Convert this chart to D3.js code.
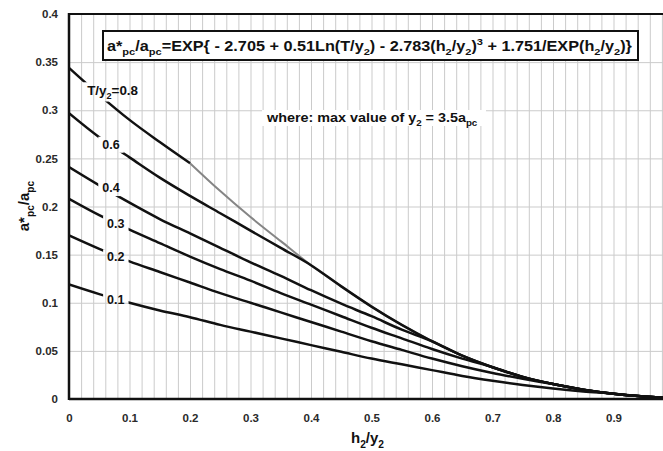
<!DOCTYPE html>
<html>
<head>
<meta charset="utf-8">
<script src="https://cdn.jsdelivr.net/npm/d3@7"></script>
<style>
  body { margin: 0; background: #fff; }
  text { font-family: "Liberation Sans", Arial, sans-serif; font-weight: bold; }
</style>
</head>
<body>
<svg id="chart" width="663" height="451"></svg>
<script>
// ---- data ----
const hSteps = [0, 0.05, 0.1, 0.15, 0.2, 0.25, 0.3, 0.35, 0.4, 0.45, 0.5, 0.55, 0.6, 0.65, 0.7, 0.75, 0.8, 0.85, 0.9];

// a*pc/apc for each T/y2 ratio, sampled on hSteps until the curve meets the limit line
const ratioLabels = ["0.8", "0.6", "0.4", "0.3", "0.2", "0.1"];
const seriesT08 = [0.344, 0.316, 0.290, 0.267, 0.245];
const seriesT06 = [0.297, 0.272, 0.251, 0.230, 0.211, 0.193, 0.175, 0.157, 0.139];
const seriesT04 = [0.241, 0.222, 0.204, 0.187, 0.172, 0.157, 0.142, 0.128, 0.113, 0.099, 0.086, 0.072, 0.060];
const seriesT03 = [0.208, 0.191, 0.176, 0.162, 0.148, 0.135, 0.123, 0.110, 0.098, 0.086, 0.074, 0.063, 0.052, 0.042, 0.033];
const seriesT02 = [0.170, 0.156, 0.143, 0.132, 0.121, 0.110, 0.100, 0.090, 0.080, 0.070, 0.060, 0.051, 0.042, 0.034, 0.027, 0.021, 0.0155];
const seriesT01 = [0.119, 0.109, 0.100, 0.092, 0.085, 0.077, 0.070, 0.063, 0.056, 0.049, 0.042, 0.036, 0.030, 0.024, 0.019, 0.0146, 0.0109, 0.0079, 0.0055];

// limit line (T/y2 = 1 - h2/y2)
const limitH = [0.2, 0.25, 0.3, 0.35, 0.4, 0.45, 0.5, 0.55, 0.6, 0.65, 0.7, 0.75, 0.8, 0.85, 0.9, 0.95, 0.975, 0.99, 1.0];
const limitV = [0.245, 0.216, 0.189, 0.164, 0.139, 0.117, 0.096, 0.077, 0.060, 0.045, 0.033, 0.023, 0.0155, 0.0097, 0.0055, 0.0026, 0.0015, 0.0008, 0];

const xTickValues = [0, 0.1, 0.2, 0.3, 0.4, 0.5, 0.6, 0.7, 0.8, 0.9];
const xTickLabels = ["0", "0.1", "0.2", "0.3", "0.4", "0.5", "0.6", "0.7", "0.8", "0.9"];
const yTickValues = [0, 0.05, 0.1, 0.15, 0.2, 0.25, 0.3, 0.35, 0.4];
const yTickLabels = ["0", "0.05", "0.1", "0.15", "0.2", "0.25", "0.3", "0.35", "0.4"];

// ---- layout ----
const svg = d3.select("#chart");
const plotLeft = 69, plotRight = 674, plotTop = 14, plotBottom = 399;
const x = d3.scaleLinear().domain([0, 1]).range([plotLeft, plotRight]);
const y = d3.scaleLinear().domain([0, 0.4]).range([plotBottom, plotTop]);

// grid
const grid = svg.append("g").attr("stroke", "#cbcbcb").attr("stroke-width", 1);
grid.selectAll("line.v").data(d3.range(0, 50).map(i => i * 0.02).concat([1]))
  .join("line").attr("class", "v")
  .attr("x1", d => x(d) + 0.5).attr("x2", d => x(d) + 0.5)
  .attr("y1", plotTop).attr("y2", plotBottom);
grid.selectAll("line.h").data(yTickValues.slice(1, -1))
  .join("line").attr("class", "h")
  .attr("x1", plotLeft).attr("x2", plotRight)
  .attr("y1", d => y(d) + 0.5).attr("y2", d => y(d) + 0.5);

// assemble each curve: its own samples, then along the limit line
const ownSeries = [seriesT08, seriesT06, seriesT04, seriesT03, seriesT02, seriesT01];
const curves = ownSeries.map((vals, i) => {
  const pts = vals.map((v, j) => [hSteps[j], v]);
  if (i > 0) {
    const lastH = hSteps[vals.length - 1];
    limitH.forEach((h, k) => { if (h > lastH + 1e-9) pts.push([h, limitV[k]]); });
  }
  return pts;
});

const line = d3.line().x(d => x(d[0])).y(d => y(d[1])).curve(d3.curveMonotoneX);

const defs = svg.append("defs");
defs.append("clipPath").attr("id", "plotClip")
  .append("rect").attr("x", plotLeft).attr("y", plotTop)
  .attr("width", plotRight - plotLeft).attr("height", plotBottom - plotTop);
const mask = defs.append("mask").attr("id", "labelMask").attr("maskUnits", "userSpaceOnUse")
  .attr("x", 0).attr("y", 0).attr("width", 663).attr("height", 451);
mask.append("rect").attr("x", 0).attr("y", 0).attr("width", 663).attr("height", 451).attr("fill", "white");

// limit line (grey)
svg.append("path")
  .attr("clip-path", "url(#plotClip)")
  .attr("d", line(limitH.map((h, k) => [h, limitV[k]])))
  .attr("fill", "none").attr("stroke", "#858585").attr("stroke-width", 2);

// black curves
const curveGroup = svg.append("g").attr("clip-path", "url(#plotClip)")
  .append("g").attr("mask", "url(#labelMask)");
curveGroup.selectAll("path").data(curves).join("path")
  .attr("d", d => line(d))
  .attr("fill", "none").attr("stroke", "#111").attr("stroke-width", 2.5)
  .attr("stroke-linejoin", "round");

// frame
svg.append("line").attr("x1", plotLeft).attr("x2", plotRight).attr("y1", plotTop).attr("y2", plotTop)
  .attr("stroke", "#111").attr("stroke-width", 2);
svg.append("line").attr("x1", plotLeft).attr("x2", plotLeft).attr("y1", plotTop - 1).attr("y2", plotBottom + 1)
  .attr("stroke", "#111").attr("stroke-width", 2.5);
svg.append("line").attr("x1", plotLeft).attr("x2", plotRight).attr("y1", plotBottom).attr("y2", plotBottom)
  .attr("stroke", "#111").attr("stroke-width", 2.5);

// axes (labels only)
const xAxis = svg.append("g").attr("transform", `translate(0,${plotBottom})`)
  .call(d3.axisBottom(x).tickValues(xTickValues).tickSize(0).tickPadding(15)
    .tickFormat((d, i) => xTickLabels[i]));
const yAxis = svg.append("g").attr("transform", `translate(${plotLeft},0)`)
  .call(d3.axisLeft(y).tickValues(yTickValues).tickSize(0).tickPadding(11)
    .tickFormat((d, i) => yTickLabels[i]));
[xAxis, yAxis].forEach(g => {
  g.select(".domain").remove();
  g.selectAll("text").attr("font-size", 11.5).attr("fill", "#2a2a2a")
    .attr("font-family", "'Liberation Sans', Arial, sans-serif").attr("font-weight", "bold");
});

// rich text helper: parts = [[text, kind]] where kind is "", "sub" or "sup"
function richText(parent, x0, y0, size, parts) {
  const t = parent.append("text").attr("x", x0).attr("y", y0).attr("font-size", size).attr("fill", "#111");
  let shift = 0;
  parts.forEach(([s, kind]) => {
    const target = kind === "sub" ? size * 0.3 : kind === "sup" ? -size * 0.38 : 0;
    t.append("tspan")
      .attr("dy", target - shift)
      .attr("font-size", kind ? size * 0.68 : size)
      .text(s);
    shift = target;
  });
  return t;
}
function fitWidth(t, x0, w) {
  const bw = t.node().getBBox().width;
  const k = w / bw;
  t.attr("transform", `translate(${x0},0) scale(${k},1) translate(${-x0},0)`);
  return k;
}

// formula box
svg.append("rect").attr("x", 103).attr("y", 31).attr("width", 535).attr("height", 29)
  .attr("fill", "#fff").attr("stroke", "#111").attr("stroke-width", 2);
const formula = richText(svg, 107, 51, 14.5, [
  ["a*", ""], ["pc", "sub"], ["/a", ""], ["pc", "sub"],
  ["=EXP{ - 2.705 + 0.51Ln(T/y", ""], ["2", "sub"], [") - 2.783(h", ""], ["2", "sub"],
  ["/y", ""], ["2", "sub"], [")", ""], ["3", "sup"], [" + 1.751/EXP(h", ""], ["2", "sub"],
  ["/y", ""], ["2", "sub"], [")}", ""]
]);
fitWidth(formula, 107, 526);

// note
svg.append("rect").attr("x", 262).attr("y", 110).attr("width", 224).attr("height", 16).attr("fill", "#fff");
const note = richText(svg, 267, 122, 12.5, [
  ["where: max value of y", ""], ["2", "sub"], [" = 3.5a", ""], ["pc", "sub"]
]);
fitWidth(note, 267, 212);

// curve labels (positions in data units of the chart)
const labelSpots = [[0.03, 0.316], [0.055, 0.26], [0.055, 0.215], [0.063, 0.178], [0.063, 0.143], [0.063, 0.099]];
const labelGroup = svg.append("g");
ratioLabels.forEach((lab, i) => {
  const [h, v] = labelSpots[i];
  let t, k = 1;
  if (i === 0) {
    t = richText(labelGroup, x(h), y(v), 12.5, [["T/y", ""], ["2", "sub"], ["=" + lab, ""]]);
    k = fitWidth(t, x(h), 51);
  } else {
    t = richText(labelGroup, x(h), y(v), 12.5, [[lab, ""]]);
  }
  const bb = t.node().getBBox();
  mask.append("rect")
    .attr("x", bb.x - 4).attr("y", bb.y - 1)
    .attr("width", bb.width * k + 8).attr("height", bb.height + 2)
    .attr("fill", "black");
});

// axis titles
richText(svg, 351, 443, 15, [["h", ""], ["2", "sub"], ["/y", ""], ["2", "sub"]]);
const yTitle = svg.append("g").attr("transform", "translate(29,206) rotate(-90)");
const yt = richText(yTitle, 0, 0, 15, [["a*", ""], ["pc", "sub"], ["/a", ""], ["pc", "sub"]]);
yt.attr("text-anchor", "middle");
</script>
</body>
</html>
